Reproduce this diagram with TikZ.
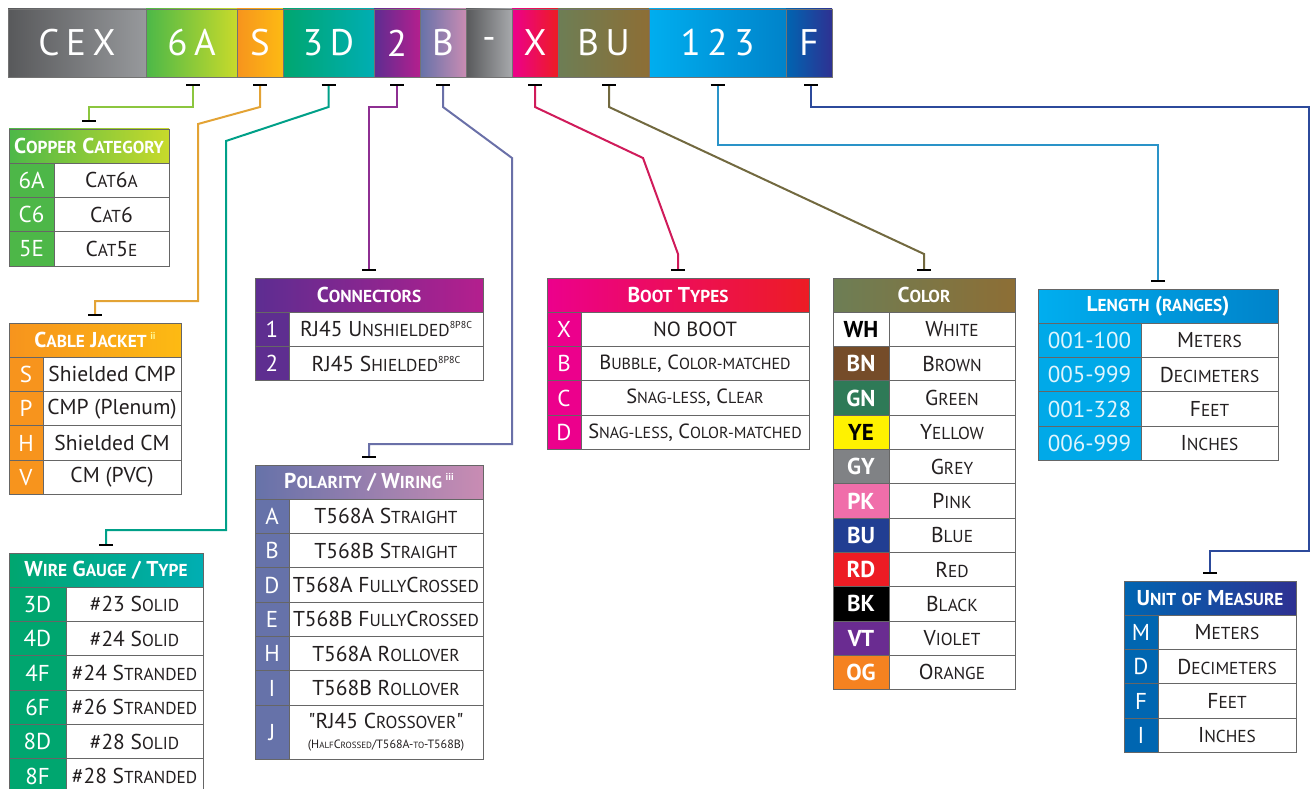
\documentclass[tikz,border=0pt]{standalone}
\usepackage{fontspec}
\setmainfont{PT Sans}[Ligatures=TeXOff]
\usepackage{relsize}
\usetikzlibrary{arrows.meta}
\definecolor{ink}{HTML}{231F20}
\definecolor{gCEXL}{HTML}{58595B}\definecolor{gCEXR}{HTML}{97999C}
\definecolor{g6AL}{HTML}{4CB848}\definecolor{g6AR}{HTML}{C8DA2B}
\definecolor{gSL}{HTML}{F7941D}\definecolor{gSR}{HTML}{FDBA13}
\definecolor{g3DL}{HTML}{00A66F}\definecolor{g3DR}{HTML}{00AEB3}
\definecolor{g2L}{HTML}{5D2D91}\definecolor{g2R}{HTML}{B41F8E}
\definecolor{gBL}{HTML}{6672A9}\definecolor{gBR}{HTML}{C98CB3}
\definecolor{gdashL}{HTML}{58595B}\definecolor{gdashR}{HTML}{A7A9AC}
\definecolor{gXL}{HTML}{EC008C}\definecolor{gXR}{HTML}{ED1C24}
\definecolor{gBUL}{HTML}{6D7E55}\definecolor{gBUR}{HTML}{8D6E35}
\definecolor{g123L}{HTML}{00AEEF}\definecolor{g123R}{HTML}{0083CA}
\definecolor{gFL}{HTML}{0065B1}\definecolor{gFR}{HTML}{2E3192}
\definecolor{fcu}{HTML}{4DB748}
\definecolor{fcj}{HTML}{F7941D}
\definecolor{fwg}{HTML}{00A66F}
\definecolor{fcn}{HTML}{5E2E90}
\definecolor{fpo}{HTML}{6672A9}
\definecolor{fbt}{HTML}{EC008C}
\definecolor{fle}{HTML}{00A9E8}
\definecolor{fum}{HTML}{0066B1}
\definecolor{cBN}{HTML}{754C29}
\definecolor{cGN}{HTML}{2E7A57}
\definecolor{cYE}{HTML}{FFF200}
\definecolor{cGY}{HTML}{808285}
\definecolor{cPK}{HTML}{F06EAA}
\definecolor{cBU}{HTML}{213E92}
\definecolor{cRD}{HTML}{ED1C24}
\definecolor{cVT}{HTML}{6A2C91}
\definecolor{cOG}{HTML}{F58220}
\definecolor{l6A}{HTML}{8CC63F}
\definecolor{lS}{HTML}{E3A335}
\definecolor{l3D}{HTML}{00A088}
\definecolor{l2}{HTML}{8E2F92}
\definecolor{lB}{HTML}{6A70A8}
\definecolor{lX}{HTML}{D01B5A}
\definecolor{lBU}{HTML}{72693F}
\definecolor{l123}{HTML}{2A93C8}
\definecolor{lF}{HTML}{2C4A9B}
\newcommand\smcap[1]{{\relscale{0.78}\MakeUppercase{#1}}}
\def\scwi#1#2\relax{#1\smcap{#2}}
\newcommand\scw[1]{\scwi#1\relax}
\newcommand\sups[1]{\raisebox{0.75ex}{\fontsize{10}{10}\selectfont#1}}
\newcommand\segfont{\fontsize{37}{40}\selectfont\addfontfeature{LetterSpace=18}}
\newcommand\hdrfont{\fontsize{21.5}{24}\selectfont\bfseries}
\newcommand\bodyfont{\fontsize{21.5}{24}\selectfont}
\newcommand\keyfont{\fontsize{23}{24}\selectfont}
\begin{document}
\begin{tikzpicture}[x=1pt,y=-1pt,
  segbox/.style={anchor=north west,minimum height=68pt,inner sep=0pt,outer sep=0pt,draw=black!55,line width=0.6pt,text=white,font=\segfont},
  hdrcell/.style={anchor=north west,minimum height=34.3pt,inner sep=0pt,outer sep=0pt,draw=black!60,line width=0.9pt,text=white,font=\hdrfont},
  codecell/.style={anchor=north west,minimum height=34.3pt,inner sep=0pt,outer sep=0pt,draw=black!60,line width=0.9pt,text=white,font=\keyfont},
  desccell/.style={codecell,fill=white,text=ink,font=\bodyfont},
  link/.style={line width=2pt,arrows={Bar[color=black,width=14pt,line width=2.4pt]-Bar[color=black,width=14pt,line width=2.4pt]}}]
\useasboundingbox (0,0) rectangle (1312,789);
\foreach \t/\n/\x/\w in {CEX/CEX/8/138,6A/6A/146/91,S/S/237/46,3D/3D/283/91,2/2/374/46,B/B/420/46,-/dash/466/46,X/X/512/46,BU/BU/558/91,123/123/649/137,F/F/786/46}
  \node[segbox,left color=g\n L,right color=g\n R,minimum width=\w pt] (s\n) at (\x,9) {\t};
\node[hdrcell,left color=g6AL,right color=g6AR,minimum width=160pt] (hcu) at (9,129) {\scw{Copper} \scw{Category}};
\foreach \c/\d [count=\i] in {6A/{C\smcap{at}6\smcap{a}},C6/{C\smcap{at}6},5E/{C\smcap{at}5\smcap{e}}}{
  \node[codecell,fill=fcu,minimum width=45pt] (cuc\i) at (9,129+34.3*\i) {\c};
  \node[desccell,minimum width=115pt] (cud\i) at (54,129+34.3*\i) {\d};
}
\node[hdrcell,left color=gSL,right color=gSR,minimum width=172pt] (hcj) at (9,323) {\scw{Cable} \scw{Jacket}\,\sups{\color{yellow!40}ii}};
\foreach \c/\d [count=\i] in {S/Shielded CMP,P/CMP (Plenum),H/Shielded CM,V/CM (PVC)}{
  \node[codecell,fill=fcj,minimum width=34pt] (cjc\i) at (9,323+34.3*\i) {\c};
  \node[desccell,minimum width=138pt] (cjd\i) at (43,323+34.3*\i) {\d};
}
\node[hdrcell,left color=g3DL,right color=g3DR,minimum width=194pt] (hwg) at (9,553) {\scw{Wire} \scw{Gauge} / \scw{Type}};
\foreach \c/\d [count=\i] in {3D/{\#23 \scw{Solid}},4D/{\#24 \scw{Solid}},4F/{\#24 \scw{Stranded}},6F/{\#26 \scw{Stranded}},8D/{\#28 \scw{Solid}},8F/{\#28 \scw{Stranded}}}{
  \node[codecell,fill=fwg,minimum width=57pt] (wgc\i) at (9,553+34.3*\i) {\c};
  \node[desccell,minimum width=137pt] (wgd\i) at (66,553+34.3*\i) {\d};
}
\node[hdrcell,left color=g2L,right color=g2R,minimum width=228pt] (hcn) at (255,278) {\scw{Connectors}};
\foreach \c/\d [count=\i] in {1/{RJ45 \scw{Unshielded}\sups{8P8C}},2/{RJ45 \scw{Shielded}\sups{8P8C}}}{
  \node[codecell,fill=fcn,minimum width=34pt] (cnc\i) at (255,278+34.3*\i) {\c};
  \node[desccell,minimum width=194pt] (cnd\i) at (289,278+34.3*\i) {\d};
}
\node[hdrcell,left color=gBL,right color=gBR,minimum width=228pt] (hpo) at (255,465) {\scw{Polarity} / \scw{Wiring}\,\sups{\color{white!70}iii}};
\foreach \c/\d [count=\i] in {A/{T568A \scw{Straight}},B/{T568B \scw{Straight}},D/{T568A F\smcap{ully}C\smcap{rossed}},E/{T568B F\smcap{ully}C\smcap{rossed}},H/{T568A \scw{Rollover}},I/{T568B \scw{Rollover}}}{
  \node[codecell,fill=fpo,minimum width=34pt] (poc\i) at (255,465+34.3*\i) {\c};
  \node[desccell,minimum width=194pt] (pod\i) at (289,465+34.3*\i) {\d};
}
\node[codecell,fill=fpo,minimum width=34pt,minimum height=54pt] (poc7) at (255,705.1) {J};
\node[desccell,minimum width=194pt,minimum height=54pt,align=center] (pod7) at (289,705.1) {"RJ45 \scw{Crossover}"\\[-4pt]{\fontsize{12}{14}\selectfont(H\smcap{alf}C\smcap{rossed}/T568A-\smcap{to}-T568B)}};
\node[hdrcell,left color=gXL,right color=gXR,minimum width=262pt] (hbt) at (547,278) {\scw{Boot} \scw{Types}};
\foreach \c/\d [count=\i] in {X/NO BOOT,B/{\scw{Bubble}, \scw{Color-matched}},C/{\scw{Snag-less}, \scw{Clear}},D/{\scw{Snag-less}, \scw{Color-matched}}}{
  \node[codecell,fill=fbt,minimum width=34pt] (btc\i) at (547,278+34.3*\i) {\c};
  \node[desccell,minimum width=228pt,font=\fontsize{20.5}{24}\selectfont] (btd\i) at (581,278+34.3*\i) {\d};
}
\node[hdrcell,left color=gBUL,right color=gBUR,minimum width=182pt] (hco) at (833,278) {\scw{Color}};
\foreach \c/\f/\t/\d [count=\i] in {WH/white/black/{\scw{White}},BN/cBN/white/{\scw{Brown}},GN/cGN/white/{\scw{Green}},YE/cYE/black/{\scw{Yellow}},GY/cGY/white/{\scw{Grey}},PK/cPK/white/{\scw{Pink}},BU/cBU/white/{\scw{Blue}},RD/cRD/white/{\scw{Red}},BK/black/white/{\scw{Black}},VT/cVT/white/{\scw{Violet}},OG/cOG/white/{\scw{Orange}}}{
  \node[codecell,fill=\f,text=\t,minimum width=56pt,font=\keyfont\bfseries] (coc\i) at (833,278+34.3*\i) {\c};
  \node[desccell,minimum width=126pt] (cod\i) at (889,278+34.3*\i) {\d};
}
\node[hdrcell,left color=g123L,right color=g123R,minimum width=240pt] (hle) at (1038,289) {\scw{Length} (\smcap{ranges})};
\foreach \c/\d [count=\i] in {001-100/{\scw{Meters}},005-999/{\scw{Decimeters}},001-328/{\scw{Feet}},006-999/{\scw{Inches}}}{
  \node[codecell,fill=fle,text=white!88!cyan,minimum width=103pt] (lec\i) at (1038,289+34.3*\i) {\c};
  \node[desccell,minimum width=137pt] (led\i) at (1141,289+34.3*\i) {\d};
}
\node[hdrcell,left color=gFL,right color=gFR,minimum width=172pt] (hum) at (1124,581) {\scw{Unit} \smcap{of} \scw{Measure}};
\foreach \c/\d [count=\i] in {M/{\scw{Meters}},D/{\scw{Decimeters}},F/{\scw{Feet}},I/{\scw{Inches}}}{
  \node[codecell,fill=fum,minimum width=34pt] (umc\i) at (1124,581+34.3*\i) {\c};
  \node[desccell,minimum width=138pt] (umd\i) at (1158,581+34.3*\i) {\d};
}
\draw[link,l6A] ([xshift=1.5pt,yshift=-7pt]s6A.south) -- ++(0,23) -| ([yshift=7pt]hcu.north);
\draw[link,lS] ([yshift=-7pt]sS.south) -- ++(0,23) -- (198,124) -- (198,301) -| ([yshift=7pt]hcj.north);
\draw[link,l3D] ([yshift=-7pt]s3D.south) -- ++(0,23) -- (226,141) -- (226,530) -| ([yshift=7pt]hwg.north);
\draw[link,l2] ([yshift=-7pt]s2.south) -- ++(0,23) -| ([yshift=7pt]hcn.north);
\draw[link,lB] ([yshift=-7pt]sB.south) -- ++(0,23) -- (512,158) -- (512,444) -| ([yshift=7pt]hpo.north);
\draw[link,lX] ([yshift=-7pt]sX.south) -- ++(0,23) -- (643,158) -- (678,254) -- ([yshift=7pt]hbt.north);
\draw[link,lBU] ([xshift=5.5pt,yshift=-7pt]sBU.south) -- ++(0,23) -- (924,254) -- ([yshift=7pt]hco.north);
\draw[link,l123] ([yshift=-7pt]s123.south) -- ++(0,61) -| ([yshift=7pt]hle.north);
\draw[link,lF] ([xshift=2pt,yshift=-7pt]sF.south) -- ++(0,23) -- (1309,107) -- (1309,551) -| ([yshift=7pt]hum.north);
\end{tikzpicture}
\end{document}
